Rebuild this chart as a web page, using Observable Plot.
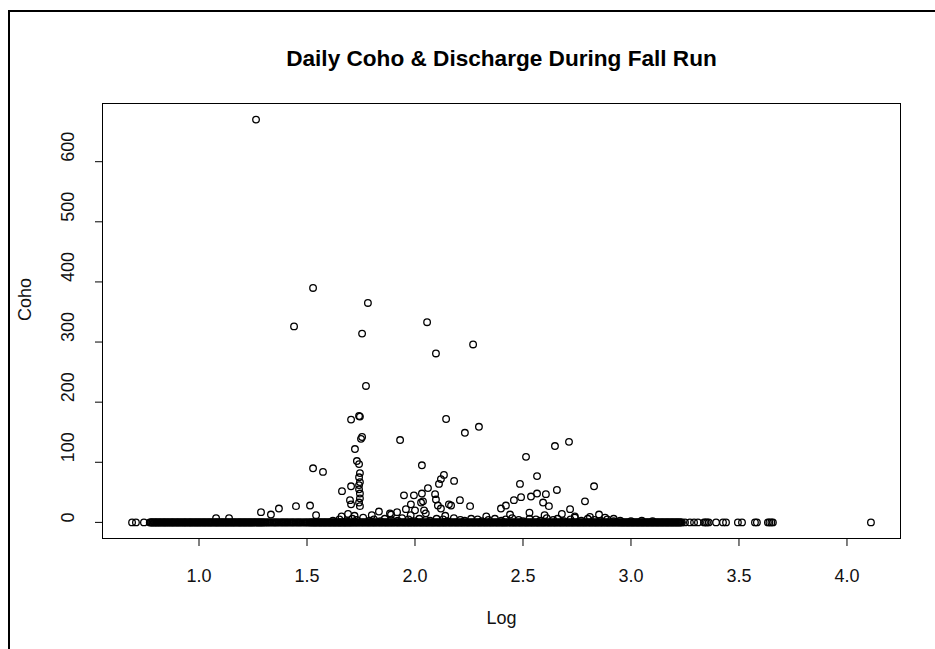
<!DOCTYPE html>
<html>
<head>
<meta charset="utf-8">
<script src="https://cdn.jsdelivr.net/npm/d3@7"></script>
<script src="https://cdn.jsdelivr.net/npm/@observablehq/plot@0.6"></script>
<style>
  html, body { margin: 0; padding: 0; background: white; }
  #wrap { position: relative; width: 935px; height: 649px; overflow: hidden; background: white; }
  #wrap svg { position: absolute; left: 0; top: 0; }
  #border { position: absolute; left: 8px; top: 10px; width: 935px; height: 649px;
            border-top: 2px solid #000; border-left: 2px solid #000; pointer-events: none; }
</style>
</head>
<body>
<div id="wrap"><div id="border"></div></div>
<script>
// ---- Data ----
const title = "Daily Coho & Discharge During Fall Run";
const xLabel = "Log";
const yLabel = "Coho";
const xTicks = [1.0, 1.5, 2.0, 2.5, 3.0, 3.5, 4.0];
const yTicks = [0, 100, 200, 300, 400, 500, 600];

// log discharge of days with zero coho counted
const zeroLog = [
  0.690,0.708,0.745,
  0.772,0.776,0.779,0.783,0.785,0.790,0.794,0.797,0.801,0.804,0.807,0.812,0.816,0.819,0.822,0.826,0.831,0.835,
  0.838,0.841,0.845,0.849,0.853,0.857,0.860,0.864,0.869,0.872,0.876,0.879,0.883,0.887,0.891,0.895,0.899,0.902,
  0.906,0.910,0.914,0.918,0.921,0.926,0.930,0.933,0.937,0.940,0.944,0.949,0.953,0.956,0.960,0.963,0.967,0.971,
  0.975,0.979,0.983,0.986,0.990,0.994,0.998,1.001,1.005,1.009,1.013,1.017,1.021,1.024,1.028,1.032,1.036,1.040,
  1.044,1.047,1.051,1.055,1.059,1.062,1.066,1.071,1.075,1.078,1.082,1.085,1.089,1.093,1.097,1.101,1.105,1.108,
  1.112,1.116,1.120,1.124,1.128,1.131,1.135,1.139,1.143,1.147,1.151,1.154,1.158,1.162,1.166,1.169,1.173,1.178,
  1.182,1.185,1.189,1.192,1.196,1.200,1.204,1.208,1.212,1.215,1.219,1.223,1.227,1.231,1.235,1.238,1.242,1.246,
  1.250,1.254,1.258,1.261,1.265,1.269,1.273,1.277,1.281,1.284,1.288,1.292,1.296,
  1.300,1.305,1.310,1.316,1.320,1.326,1.331,1.337,1.343,1.348,1.353,1.358,1.363,1.369,1.375,1.381,1.386,1.391,
  1.396,1.402,1.407,1.412,1.418,1.424,1.429,1.434,1.439,1.445,1.451,1.456,1.461,1.466,1.471,1.477,1.483,1.489,
  1.494,1.499,1.504,1.510,1.514,1.518,1.522,
  1.526,1.530,1.534,1.537,1.541,1.545,1.549,1.553,1.557,1.561,1.564,1.568,1.572,1.576,1.580,1.583,1.587,1.591,
  1.595,1.599,1.603,1.606,1.610,1.614,1.618,1.622,1.626,1.629,1.633,1.637,1.641,1.645,1.649,1.652,1.656,1.660,
  1.664,1.668,1.672,1.675,1.679,1.683,1.687,1.691,1.695,1.699,
  1.703,1.707,1.711,1.716,1.720,1.724,1.729,1.733,1.737,1.742,1.747,1.751,1.756,1.760,1.764,1.769,1.774,1.778,
  1.783,1.787,1.791,1.796,1.801,1.805,1.810,1.814,1.818,1.823,1.828,1.832,1.837,1.841,1.845,1.850,1.855,1.859,
  1.864,1.868,1.872,1.877,1.882,1.886,1.891,1.895,1.899,1.904,1.909,1.913,1.918,1.922,1.926,1.931,1.936,1.940,
  1.945,1.949,1.953,1.958,1.963,1.967,1.972,1.976,1.980,1.985,1.990,1.994,1.999,2.003,2.007,2.012,2.017,2.021,
  2.026,2.030,2.034,2.039,2.044,2.048,2.053,2.057,2.061,2.066,2.071,2.075,2.080,2.084,2.088,2.093,2.098,2.102,
  2.107,2.111,2.115,2.120,2.125,2.129,2.134,2.138,2.142,2.147,2.152,2.156,2.161,2.165,2.169,2.174,2.179,2.183,
  2.188,2.192,2.196,2.201,2.206,2.210,2.215,2.219,2.223,2.228,2.233,2.237,2.242,2.246,2.250,2.255,2.260,2.264,
  2.269,2.273,2.277,2.282,2.287,2.291,2.296,2.300,2.304,2.309,2.314,2.318,2.323,2.327,2.331,2.336,2.341,2.345,
  2.350,2.354,2.358,2.363,2.368,2.372,2.377,2.381,2.385,2.390,2.395,2.399,2.404,2.408,2.412,2.417,2.422,2.426,
  2.431,2.435,2.439,2.444,2.449,2.453,2.458,2.462,2.466,2.471,2.476,2.480,2.485,2.489,2.493,2.498,2.503,2.507,
  2.512,2.516,2.520,2.525,2.530,2.534,2.539,2.543,2.547,2.552,2.557,2.561,2.566,2.570,2.574,2.579,2.584,2.588,
  2.593,2.597,2.601,2.606,2.611,2.615,2.620,2.624,2.628,2.633,2.638,2.642,2.647,2.651,2.655,2.660,2.665,2.669,
  2.674,2.678,2.682,2.687,2.692,2.696,2.701,2.705,2.709,2.714,2.719,2.723,2.728,2.732,2.736,2.741,2.746,2.750,
  2.755,2.759,2.763,2.768,2.773,2.777,2.782,2.786,2.790,2.795,2.800,2.804,2.809,2.813,2.817,2.822,2.827,2.831,
  2.836,2.840,2.844,2.849,2.854,2.858,2.863,2.867,2.871,2.876,2.881,2.885,2.890,2.894,2.898,2.903,2.908,2.912,
  2.917,2.921,2.925,2.930,2.935,2.939,2.944,2.948,
  2.952,2.956,2.960,2.963,2.967,2.971,2.975,2.979,2.983,2.986,2.990,2.994,2.998,3.002,3.006,3.009,3.013,3.017,
  3.021,3.025,3.029,3.032,3.036,3.040,3.044,3.048,3.052,3.055,3.059,3.063,3.067,3.071,3.075,3.078,3.082,3.086,
  3.090,3.094,3.098,3.101,3.105,3.109,3.113,3.117,3.121,3.124,3.128,3.132,3.136,3.140,3.144,3.147,3.151,3.155,
  3.159,3.163,3.167,3.170,3.174,3.178,3.182,3.186,3.190,3.193,3.197,3.201,3.205,3.209,3.213,3.216,3.220,3.224,
  3.228,3.232,3.236,
  3.250,3.273,3.292,3.310,3.338,3.345,3.352,3.360,3.394,3.426,3.440,3.495,3.514,3.574,3.583,3.634,3.641,3.650,
  3.657,4.111
];

// days with coho counted: log discharge and count
const cohoLog = [
  1.264,1.528,1.440,1.782,1.755,2.056,2.097,2.269,1.773,1.741,1.745,1.704,2.144,2.296,2.231,1.931,1.755,1.750,
  1.722,2.648,2.713,2.514,2.032,1.528,1.574,1.731,1.741,1.745,1.741,1.745,1.741,1.741,1.745,1.745,1.741,1.745,
  1.662,1.704,1.699,1.704,1.514,1.542,2.565,2.829,2.486,2.657,2.787,2.134,2.120,2.111,2.181,1.949,1.995,2.032,
  2.060,2.093,2.097,2.208,2.255,2.157,1.833,1.884,2.398,2.421,2.458,2.491,2.537,2.565,2.606,2.593,2.620,2.718,
  1.981,2.028,2.042,2.000,2.106,2.852,1.079,1.139,1.287,1.333,1.370,1.449,1.889,1.958,1.917,2.120,2.167,2.037,
  1.66,1.69,1.72,1.80,1.98,2.05,2.14,2.33,2.44,2.53,2.60,2.68,2.74,2.81,2.88,2.92,
  1.62,1.65,1.68,1.71,1.73,1.76,1.79,1.81,1.84,1.86,1.89,1.92,1.94,1.97,2.00,2.02,2.05,2.07,2.10,2.13,2.15,2.18,
  2.21,2.23,2.26,2.29,2.31,2.34,2.37,2.40,2.42,2.45,2.48,2.50,2.53,2.56,2.58,2.61,2.64,2.66,2.69,2.72,2.74,2.77,
  2.80,2.83,2.86,2.89,2.92,2.95,3.00,3.05,3.10
];
const cohoCount = [
  670,390,326,365,314,333,281,296,227,177,176,171,172,159,149,137,142,139,
  122,127,134,109,95,90,84,102,97,82,75,67,62,55,48,40,33,27,
  52,60,37,30,28,12,77,60,64,54,35,79,72,64,69,45,45,48,
  57,47,38,37,27,30,18,15,23,28,37,42,43,48,47,33,27,22,
  30,33,20,20,28,13,7,7,17,13,23,27,13,22,17,23,28,35,
  10,14,11,12,12,15,11,10,13,16,12,14,10,9,8,6,
  3,5,2,6,4,8,3,5,2,6,4,3,7,5,2,6,4,3,6,5,2,7,
  4,3,6,5,2,4,6,3,5,7,4,2,6,5,3,7,4,6,2,5,8,3,
  6,4,3,5,2,3,2,3,2
];

// ---- Table built from the arrays ----
const rows = [
  ...zeroLog.map(v => ({log: v, coho: 0})),
  ...cohoLog.map((v, i) => ({log: v, coho: cohoCount[i]}))
];

// R-style 4% axis expansion
const allX = rows.map(d => d.log), allY = rows.map(d => d.coho);
const [x0, x1] = d3.extent(allX), [y0, y1] = d3.extent(allY);
const ex = (x1 - x0) * 0.04, ey = (y1 - y0) * 0.04;

const font = "'Liberation Sans', Arial, Helvetica, sans-serif";

const chart = Plot.plot({
  width: 935,
  height: 649,
  marginLeft: 102,
  marginRight: 35,
  marginTop: 103,
  marginBottom: 111,
  style: {fontFamily: font, background: "white", color: "black"},
  x: {domain: [x0 - ex, x1 + ex]},
  y: {domain: [y0 - ey, y1 + ey]},
  marks: [
    Plot.frame({stroke: "black", strokeWidth: 1}),
    Plot.axisX({ticks: xTicks, tickSize: 8, tickFormat: () => "", label: null, stroke: "black"}),
    Plot.axisY({ticks: yTicks, tickSize: 7, tickFormat: () => "", label: null, stroke: "black"}),
    Plot.text(xTicks, {x: d => d, frameAnchor: "bottom", dy: 38, text: d => d3.format(".1f")(d),
      fontSize: 18, fill: "#111", lineAnchor: "middle"}),
    Plot.text(yTicks, {y: d => d, frameAnchor: "left", dx: -34, text: d => String(d),
      rotate: -90, fontSize: 18, fill: "#111", lineAnchor: "middle"}),
    Plot.dot(rows, {x: "log", y: "coho", r: 3.3, stroke: "black", strokeWidth: 1.3, fill: "none"}),
    Plot.text([title], {frameAnchor: "top", dy: -45, text: d => d, fontSize: 22.6, fontWeight: "bold",
      fill: "black", lineAnchor: "middle"}),
    Plot.text([xLabel], {frameAnchor: "bottom", dy: 80, text: d => d, fontSize: 18, fill: "#111",
      lineAnchor: "middle"}),
    Plot.text([yLabel], {frameAnchor: "left", dx: -77, text: d => d, rotate: -90, fontSize: 18,
      fill: "#111", lineAnchor: "middle"})
  ]
});
document.getElementById("wrap").prepend(chart);
</script>
</body>
</html>
